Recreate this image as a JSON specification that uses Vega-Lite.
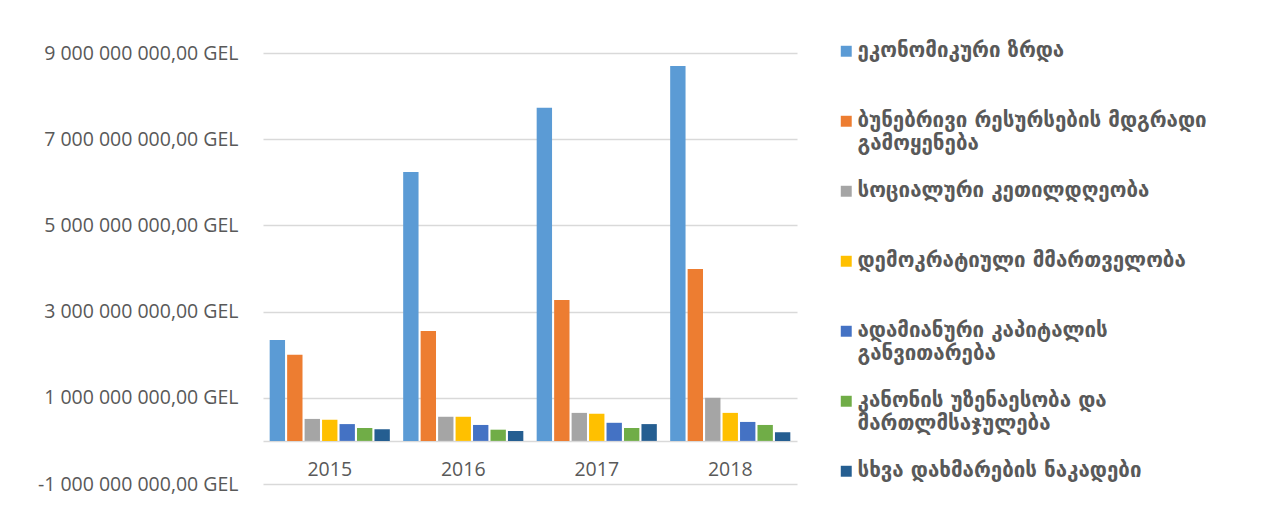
{
  "$schema": "https://vega.github.io/schema/vega-lite/v6.json",
  "width": 534,
  "height": 431,
  "autosize": {"type": "none"},
  "padding": {"left": 263, "top": 53, "right": 474, "bottom": 39},
  "background": "white",
  "data": {
    "values": [
      {"year": "2015", "category": "ეკონომიკური ზრდა", "value": 2340000000},
      {"year": "2015", "category": "ბუნებრივი რესურსების მდგრადი გამოყენება", "value": 2000000000},
      {"year": "2015", "category": "სოციალური კეთილდღეობა", "value": 510000000},
      {"year": "2015", "category": "დემოკრატიული მმართველობა", "value": 490000000},
      {"year": "2015", "category": "ადამიანური კაპიტალის განვითარება", "value": 390000000},
      {"year": "2015", "category": "კანონის უზენაესობა და მართლმსაჯულება", "value": 300000000},
      {"year": "2015", "category": "სხვა დახმარების ნაკადები", "value": 270000000},
      {"year": "2016", "category": "ეკონომიკური ზრდა", "value": 6240000000},
      {"year": "2016", "category": "ბუნებრივი რესურსების მდგრადი გამოყენება", "value": 2550000000},
      {"year": "2016", "category": "სოციალური კეთილდღეობა", "value": 560000000},
      {"year": "2016", "category": "დემოკრატიული მმართველობა", "value": 560000000},
      {"year": "2016", "category": "ადამიანური კაპიტალის განვითარება", "value": 370000000},
      {"year": "2016", "category": "კანონის უზენაესობა და მართლმსაჯულება", "value": 260000000},
      {"year": "2016", "category": "სხვა დახმარების ნაკადები", "value": 230000000},
      {"year": "2017", "category": "ეკონომიკური ზრდა", "value": 7730000000},
      {"year": "2017", "category": "ბუნებრივი რესურსების მდგრადი გამოყენება", "value": 3270000000},
      {"year": "2017", "category": "სოციალური კეთილდღეობა", "value": 650000000},
      {"year": "2017", "category": "დემოკრატიული მმართველობა", "value": 630000000},
      {"year": "2017", "category": "ადამიანური კაპიტალის განვითარება", "value": 420000000},
      {"year": "2017", "category": "კანონის უზენაესობა და მართლმსაჯულება", "value": 300000000},
      {"year": "2017", "category": "სხვა დახმარების ნაკადები", "value": 390000000},
      {"year": "2018", "category": "ეკონომიკური ზრდა", "value": 8700000000},
      {"year": "2018", "category": "ბუნებრივი რესურსების მდგრადი გამოყენება", "value": 3990000000},
      {"year": "2018", "category": "სოციალური კეთილდღეობა", "value": 1000000000},
      {"year": "2018", "category": "დემოკრატიული მმართველობა", "value": 650000000},
      {"year": "2018", "category": "ადამიანური კაპიტალის განვითარება", "value": 440000000},
      {"year": "2018", "category": "კანონის უზენაესობა და მართლმსაჯულება", "value": 370000000},
      {"year": "2018", "category": "სხვა დახმარების ნაკადები", "value": 200000000}
    ]
  },
  "mark": {"type": "bar"},
  "encoding": {
    "x": {
      "field": "year",
      "type": "nominal",
      "title": null,
      "scale": {"paddingInner": 0.1, "paddingOuter": 0.05},
      "axis": {
        "offset": -43,
        "labelAngle": 0,
        "ticks": false,
        "domainColor": "#d9d9d9",
        "domainWidth": 1.5,
        "labelPadding": 19,
        "labelFont": "Open Sans",
        "labelFontSize": 19.5,
        "labelColor": "#595959",
        "grid": false
      }
    },
    "xOffset": {
      "field": "category",
      "type": "nominal",
      "sort": [
        "ეკონომიკური ზრდა",
        "ბუნებრივი რესურსების მდგრადი გამოყენება",
        "სოციალური კეთილდღეობა",
        "დემოკრატიული მმართველობა",
        "ადამიანური კაპიტალის განვითარება",
        "კანონის უზენაესობა და მართლმსაჯულება",
        "სხვა დახმარების ნაკადები"
      ],
      "scale": {"paddingInner": 0.12, "paddingOuter": 0}
    },
    "y": {
      "field": "value",
      "type": "quantitative",
      "title": null,
      "scale": {"domain": [-1000000000, 9000000000], "nice": false, "zero": false},
      "axis": {
        "values": [-1000000000, 1000000000, 3000000000, 5000000000, 7000000000, 9000000000],
        "format": "$,.2f",
        "domain": false,
        "ticks": false,
        "labelPadding": 25,
        "labelLimit": 400,
        "labelFont": "Open Sans",
        "labelFontSize": 19.5,
        "labelColor": "#595959",
        "gridColor": "#d9d9d9",
        "gridWidth": 1.5
      }
    },
    "color": {
      "field": "category",
      "type": "nominal",
      "sort": [
        "ეკონომიკური ზრდა",
        "ბუნებრივი რესურსების მდგრადი გამოყენება",
        "სოციალური კეთილდღეობა",
        "დემოკრატიული მმართველობა",
        "ადამიანური კაპიტალის განვითარება",
        "კანონის უზენაესობა და მართლმსაჯულება",
        "სხვა დახმარების ნაკადები"
      ],
      "scale": {"range": ["#5B9BD5", "#ED7D31", "#A5A5A5", "#FFC000", "#4472C4", "#70AD47", "#255E91"]},
      "legend": {
        "title": null,
        "orient": "none",
        "legendX": 573,
        "legendY": -12,
        "symbolType": "square",
        "symbolSize": 120,
        "symbolStrokeWidth": 0,
        "rowPadding": 26,
        "labelFont": "DejaVu Sans",
        "labelFontWeight": "bold",
        "labelFontSize": 20.5,
        "labelBaseline": "middle",
        "labelColor": "#595959",
        "labelLimit": 500,
        "labelOffset": 1,
        "labelExpr": "length(datum.label) > 26 ? [substring(datum.label, 0, lastindexof(datum.label, ' ')), substring(datum.label, lastindexof(datum.label, ' ') + 1)] : [datum.label, '']"
      }
    }
  },
  "config": {
    "locale": {
      "number": {"decimal": ",", "thousands": " ", "grouping": [3], "currency": ["", " GEL"], "minus": "-"}
    },
    "view": {"stroke": null},
    "style": {"guide-label": {"lineHeight": 23}}
  }
}
